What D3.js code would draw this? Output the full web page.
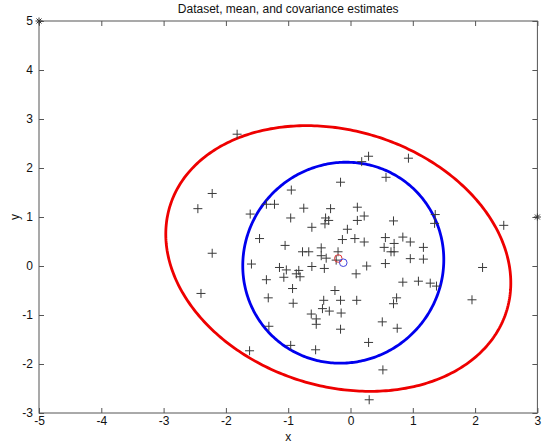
<!DOCTYPE html>
<html><head><meta charset="utf-8">
<script src="https://cdn.jsdelivr.net/npm/d3@7"></script>
<style>
body{margin:0;background:#fff;}
svg text{font-family:"Liberation Sans",Arial,sans-serif;}
</style></head>
<body><svg id="c" width="557" height="447"></svg>
<script>
// ---- data ----
const xTicks = [-5,-4,-3,-2,-1,0,1,2,3];
const yTicks = [-3,-2,-1,0,1,2,3,4,5];
const pointsX = [-1.82,-2.22,-2.45,-2.22,-1.61,-1.46,-1.35,-1.22,-0.95,-0.16,-0.75,-0.32,-0.96,-0.40,-0.35,-0.41,-0.05,-0.62,-0.13,-1.05,-0.77,-0.67,-0.47,-0.47,-0.39,-0.20,-0.23,-1.59,0.29,0.18,0.93,0.57,0.11,0.11,0.22,1.36,1.35,2.46,0.69,0.07,0.22,0.56,0.84,0.96,0.54,0.65,0.70,0.70,1.17,0.96,1.17,0.56,0.26,2.12,0.09,0.84,1.09,1.28,1.38,0.74,0.69,0.10,-0.16,-0.25,-0.15,1.95,0.51,0.75,-0.16,0.29,0.52,0.30,-1.14,-1.03,-0.87,-0.83,-0.81,-1.07,-0.62,-0.42,-1.35,-2.40,-0.93,-1.32,-0.92,-0.43,-0.45,-0.34,-0.63,-0.55,-0.55,-1.31,-0.96,-0.56,-1.62];
const pointsY = [2.69,1.48,1.17,0.26,1.06,0.56,1.26,1.26,1.55,1.71,1.18,1.17,0.98,0.98,0.93,0.86,0.75,0.79,0.54,0.42,0.29,0.29,0.37,0.21,0.16,0.29,0.12,0.04,2.24,2.13,2.20,1.81,1.20,0.93,1.02,1.05,0.87,0.83,0.92,0.56,0.49,0.58,0.59,0.49,0.38,0.29,0.29,0.46,0.38,0.15,0.14,0.05,0.00,-0.03,-0.16,-0.33,-0.31,-0.35,-0.41,-0.65,-0.77,-0.70,-0.70,-0.50,-0.96,-0.69,-1.14,-1.27,-1.29,-1.56,-2.12,-2.73,-0.03,-0.08,-0.16,-0.09,-0.22,-0.23,-0.01,-0.05,-0.28,-0.56,-0.46,-0.65,-0.76,-0.70,-0.87,-0.92,-0.98,-1.08,-1.19,-1.23,-1.62,-1.71,-1.73];
const starX = [-5, 3];
const starY = [5, 1];
const redMean = [-0.196, 0.153];
const redCov = [7.667, -1.38, 7.351];   // sxx, sxy, syy
const blueMean = [-0.116, 0.067];
const blueCov = [2.603, 0.1, 4.206];

// ---- chart ----
const svg = d3.select("#c");
const x = d3.scaleLinear().domain([-5,3]).range([39,537.4]);
const y = d3.scaleLinear().domain([-3,5]).range([413,21]);
const axisColor = "#555";
const fmt = d => String(d);

svg.append("rect").attr("x",x(-5)).attr("y",y(5))
  .attr("width",x(3)-x(-5)).attr("height",y(-3)-y(5))
  .attr("fill","none").attr("stroke",axisColor).attr("stroke-width",1);

function styleAxis(g){
  g.select(".domain").remove();
  g.selectAll(".tick line").attr("stroke",axisColor);
  g.selectAll("text").attr("fill","#111").attr("font-size","12px")
   .attr("font-family","'Liberation Sans',Arial,sans-serif");
}
svg.append("g").attr("transform",`translate(0,${y(-3)})`)
  .call(d3.axisBottom(x).tickValues(xTicks).tickSize(-5).tickPadding(3).tickFormat(fmt))
  .call(styleAxis);
svg.append("g").attr("transform",`translate(0,${y(5)})`)
  .call(d3.axisTop(x).tickValues(xTicks).tickSize(-5).tickFormat(""))
  .call(styleAxis);
svg.append("g").attr("transform",`translate(${x(-5)},0)`)
  .call(d3.axisLeft(y).tickValues(yTicks).tickSize(-5).tickPadding(6).tickFormat(fmt))
  .call(styleAxis);
svg.append("g").attr("transform",`translate(${x(3)},0)`)
  .call(d3.axisRight(y).tickValues(yTicks).tickSize(-5).tickFormat(""))
  .call(styleAxis);

// ellipses from covariance (Cholesky)
function ellipse(mean, cov){
  const a = Math.sqrt(cov[0]), b = cov[1]/a, c = Math.sqrt(cov[2]-b*b);
  return d3.range(0, 361).map(i => {
    const t = i*Math.PI/180;
    return [mean[0] + a*Math.cos(t), mean[1] + b*Math.cos(t) + c*Math.sin(t)];
  });
}
const line = d3.line().x(d=>x(d[0])).y(d=>y(d[1]));
svg.append("path").attr("d", line(ellipse(redMean, redCov)))
  .attr("fill","none").attr("stroke","#ee0000").attr("stroke-width",2.8);
svg.append("path").attr("d", line(ellipse(blueMean, blueCov)))
  .attr("fill","none").attr("stroke","#0000ee").attr("stroke-width",2.8);

// plus markers
const pts = pointsX.map((v,i)=>[v,pointsY[i]]);
const s = 4.5;
svg.append("g").selectAll("path").data(pts).join("path")
  .attr("d", d=>`M${x(d[0])-s},${y(d[1])}H${x(d[0])+s}M${x(d[0])},${y(d[1])-s}V${y(d[1])+s}`)
  .attr("stroke","#3a3a3a").attr("stroke-width",1).attr("fill","none");

// star markers
const stars = starX.map((v,i)=>[v,starY[i]]);
const r = 3.5, r2 = 2.5;
svg.append("g").selectAll("path").data(stars).join("path")
  .attr("d", d=>{const cx=x(d[0]), cy=y(d[1]);
    return `M${cx-r},${cy}H${cx+r}M${cx},${cy-r}V${cy+r}M${cx-r2},${cy-r2}L${cx+r2},${cy+r2}M${cx-r2},${cy+r2}L${cx+r2},${cy-r2}`;})
  .attr("stroke","#333").attr("stroke-width",1).attr("fill","none");

// means
svg.append("circle").attr("cx",x(redMean[0])).attr("cy",y(redMean[1])).attr("r",3.8)
  .attr("fill","none").attr("stroke","#dd3333").attr("stroke-width",1);
svg.append("circle").attr("cx",x(blueMean[0])).attr("cy",y(blueMean[1])).attr("r",3.8)
  .attr("fill","none").attr("stroke","#4444dd").attr("stroke-width",1);

// title & labels
svg.append("text").attr("x",(x(-5)+x(3))/2).attr("y",13).attr("text-anchor","middle")
  .attr("font-size","12px").attr("fill","#111").text("Dataset, mean, and covariance estimates");
svg.append("text").attr("x",(x(-5)+x(3))/2).attr("y",441).attr("text-anchor","middle")
  .attr("font-size","12px").attr("fill","#111").text("x");
svg.append("text").attr("transform",`translate(19,${(y(-3)+y(5))/2}) rotate(-90)`).attr("text-anchor","middle")
  .attr("font-size","12px").attr("fill","#111").text("y");
</script></body></html>
